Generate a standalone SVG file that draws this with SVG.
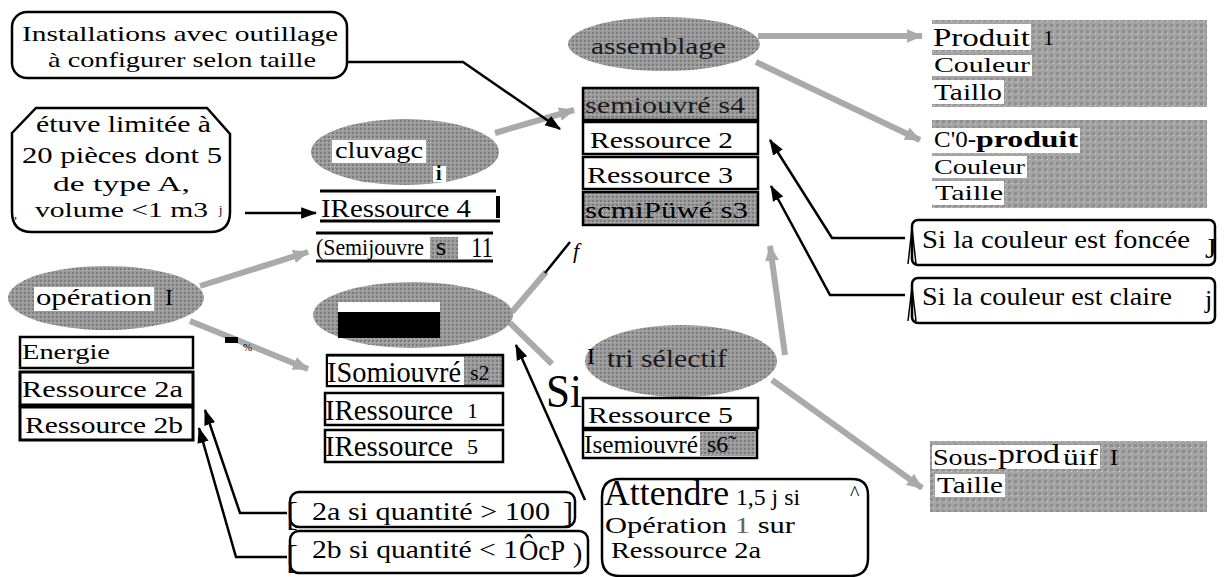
<svg xmlns="http://www.w3.org/2000/svg" width="1228" height="577" viewBox="0 0 1228 577" font-family="'Liberation Serif', 'Times New Roman', serif">
<style>
text{font-family:'Liberation Serif','Times New Roman',serif;fill:#000}
.fs22{font-family:'Liberation Serif',serif;font-size:22px}
.fs24{font-family:'Liberation Serif',serif;font-size:24px}
.fs26{font-family:'Liberation Serif',serif;font-size:26px}
.dark{fill:#1a1a1a}
.box{fill:#fff;stroke:#000;stroke-width:2.5}
.gbox{fill:url(#dith);stroke:#000;stroke-width:2.5}
.note{fill:#fff;stroke:#000;stroke-width:2.5}
.ell{fill:url(#dith);stroke:none}
.panel{fill:url(#dith2);stroke:none}
.wbg{fill:#fff}
.blk{fill:none;stroke:#000;stroke-width:2.5}
.gry{fill:none;stroke:#aaa;stroke-width:6}
</style>
<defs>
<pattern id="dith" width="4" height="4" patternUnits="userSpaceOnUse">
<rect width="4" height="4" fill="#9a9a9a"/><rect width="2" height="2" fill="#7e7e7e"/><rect x="2" y="2" width="1" height="1" fill="#c8c8c8"/>
</pattern>
<pattern id="dith2" width="6" height="6" patternUnits="userSpaceOnUse">
<rect width="6" height="6" fill="#a4a4a4"/><rect width="3" height="3" fill="#8e8e8e"/><rect x="3" y="3" width="1" height="1" fill="#d4d4d4"/>
</pattern>
<marker id="ab" viewBox="0 0 14 10" refX="13" refY="5" markerWidth="16" markerHeight="12" markerUnits="userSpaceOnUse" orient="auto"><path d="M0,0 L14,5 L0,10 z" fill="#000"/></marker>
<marker id="ag" viewBox="0 0 14 12" refX="13" refY="6" markerWidth="16" markerHeight="14" markerUnits="userSpaceOnUse" orient="auto"><path d="M0,0 L14,6 L0,12 z" fill="#aaa"/></marker>
</defs>
<rect width="1228" height="577" fill="#fff"/>

<g id="connectors">
<path class="gry" d="M200,286 L308,252" marker-end="url(#ag)"/>
<path class="gry" d="M190,321 L308,369" marker-end="url(#ag)"/>
<path class="gry" d="M495,133 L574,110" marker-end="url(#ag)"/>
<path class="gry" d="M512,312 L546,272"/>
<path class="blk" d="M545,273 L570,242"/>
<path class="gry" d="M510,323 L552,364"/>
<path class="gry" d="M758,36 L922,36" marker-end="url(#ag)"/>
<path class="gry" d="M756,62 L920,140" marker-end="url(#ag)"/>
<path class="gry" d="M785,355 L770,246" marker-end="url(#ag)"/>
<path class="gry" d="M772,380 L922,488" marker-end="url(#ag)"/>
<path class="blk" d="M347,62 L463,62 L560,129" marker-end="url(#ab)"/>
<path class="blk" d="M245,213 L316,213" marker-end="url(#ab)"/>
<path class="blk" d="M585,500 L516,345" marker-end="url(#ab)"/>
<path class="blk" d="M287,513 L240,513 L205,410" marker-end="url(#ab)"/>
<path class="blk" d="M287,557 L236,557 L199,428" marker-end="url(#ab)"/>
<path class="blk" d="M905,238 L832,238 L770,140" marker-end="url(#ab)"/>
<path class="blk" d="M905,295 L830,295 L771,186" marker-end="url(#ab)"/>
<rect x="225" y="337" width="13" height="6" fill="#000"/>
<text x="243" y="351" style="font-size:11px">%</text>
<text x="573" y="258" style="font-size:22px;font-style:italic">f</text>
</g>

<g id="n-installations">
<rect class="note" x="12" y="12" width="335" height="66" rx="15"/>
<text class="fs22" x="22" y="41" textLength="316" lengthAdjust="spacingAndGlyphs">Installations avec outillage</text>
<text class="fs22" x="48" y="67" textLength="268" lengthAdjust="spacingAndGlyphs">à configurer selon taille</text>
</g>

<g id="n-etuve">
<path class="note" d="M12,133 L36,108 L207,108 L230,134 L230,212 Q230,232 210,232 L32,232 Q12,232 12,212 Z"/>
<text class="fs24" x="36" y="132" textLength="175" lengthAdjust="spacingAndGlyphs">étuve limitée à</text>
<text class="fs24" x="22" y="163" textLength="200" lengthAdjust="spacingAndGlyphs">20 pièces dont 5</text>
<text class="fs22" x="53" y="191" textLength="137" lengthAdjust="spacingAndGlyphs">de type A,</text>
<text class="fs22" x="35" y="217" textLength="173" lengthAdjust="spacingAndGlyphs">volume &lt;1 m3</text>
<text x="14" y="218" style="font-size:12px">,</text>
<text x="219" y="214" style="font-size:12px">j</text>
</g>

<g id="n-cluvage">
<ellipse class="ell" cx="405" cy="152" rx="94" ry="33"/>
<rect class="wbg" x="332" y="140" width="94" height="23"/>
<text class="fs24" x="335" y="158" textLength="88" lengthAdjust="spacingAndGlyphs">cluvagc</text>
<rect class="wbg" x="433" y="166" width="13" height="16"/>
<text x="436" y="180" style="font-size:20px;font-weight:bold">i</text>
</g>

<g id="n-ressource4">
<path d="M320,191 L496,191 M320,221 L500,221" stroke="#000" stroke-width="3"/>
<path d="M498,196 L498,218" stroke="#000" stroke-width="4"/>
<text class="fs26" x="321" y="217" textLength="150" lengthAdjust="spacingAndGlyphs">IRessource 4</text>
</g>

<g id="n-semijouvre1">
<path d="M316,233 L493,233 M316,261 L493,261" stroke="#000" stroke-width="3"/>
<rect x="430" y="237" width="28" height="22" fill="url(#dith)"/>
<text x="316" y="255" style="font-size:24px" textLength="108" lengthAdjust="spacingAndGlyphs">(Semijouvre</text>
<text class="fs26" x="436" y="255">s</text>
<text x="471" y="257" style="font-size:30px" textLength="22" lengthAdjust="spacingAndGlyphs">11</text>
</g>

<g id="n-operation">
<ellipse class="ell" cx="106" cy="298" rx="98" ry="32"/>
<rect class="wbg" x="34" y="287" width="120" height="24"/>
<text class="fs24" x="36" y="305" textLength="116" lengthAdjust="spacingAndGlyphs">opération</text>
<text class="fs24" x="165" y="305">I</text>
</g>

<g id="n-energie">
<rect class="box" x="20" y="337" width="173" height="31"/>
<text class="fs22" x="22" y="359" textLength="88" lengthAdjust="spacingAndGlyphs">Energie</text>
</g>
<g id="n-ressource2a">
<rect class="box" x="20" y="372" width="173" height="33" style="stroke-width:3"/>
<text class="fs24" x="22" y="397" textLength="161" lengthAdjust="spacingAndGlyphs">Ressource 2a</text>
</g>
<g id="n-ressource2b">
<rect class="box" x="20" y="407" width="173" height="33" style="stroke-width:3"/>
<text class="fs24" x="25" y="433" textLength="158" lengthAdjust="spacingAndGlyphs">Ressource 2b</text>
</g>

<g id="n-op2">
<ellipse class="ell" cx="413" cy="315" rx="100" ry="33"/>
<rect class="wbg" x="338" y="302" width="102" height="10"/>
<rect x="338" y="312" width="102" height="26" fill="#000"/>
</g>

<g id="n-somiouvre2">
<rect class="gbox" x="327" y="355" width="176" height="31"/>
<rect class="wbg" x="328" y="357" width="136" height="28"/>
<text x="327" y="382" style="font-size:29px" textLength="134" lengthAdjust="spacingAndGlyphs">ISomiouvré</text>
<text class="fs22" x="470" y="380">s2</text>
</g>
<g id="n-ressource1">
<rect class="box" x="325" y="393" width="178" height="32"/>
<text x="325" y="420" style="font-size:30px" textLength="128" lengthAdjust="spacingAndGlyphs">IRessource</text>
<text class="fs22" x="467" y="418">1</text>
</g>
<g id="n-ressource5a">
<rect class="box" x="325" y="430" width="178" height="32"/>
<text x="325" y="456" style="font-size:30px" textLength="128" lengthAdjust="spacingAndGlyphs">IRessource</text>
<text class="fs22" x="467" y="454">5</text>
</g>

<g id="n-cond2a">
<rect class="note" x="290" y="492" width="285" height="35" rx="9"/>
<text x="286" y="525" style="font-size:34px" textLength="12" lengthAdjust="spacingAndGlyphs">[</text>
<text class="fs26" x="312" y="520" textLength="238" lengthAdjust="spacingAndGlyphs">2a si quantité &gt; 100</text>
<text x="563" y="522" style="font-size:30px">]</text>
</g>
<g id="n-cond2b">
<rect class="note" x="290" y="531" width="298" height="42" rx="9"/>
<text x="286" y="568" style="font-size:34px" textLength="12" lengthAdjust="spacingAndGlyphs">[</text>
<text class="fs26" x="312" y="558" textLength="206" lengthAdjust="spacingAndGlyphs">2b si quantité &lt; 1</text>
<text x="519" y="560" style="font-size:29px" textLength="46" lengthAdjust="spacingAndGlyphs">ÔcP</text>
<text x="573" y="562" style="font-size:28px">)</text>
</g>

<g id="n-attendre">
<path class="note" d="M620,479 L852,479 Q868,479 868,495 L868,558 Q868,576 850,576 L620,576 Q602,576 602,558 L602,497 Q602,479 620,479 Z"/>
<text x="604" y="505" style="font-size:36px" textLength="125" lengthAdjust="spacingAndGlyphs">Attendre</text>
<text class="fs24" x="736" y="505" textLength="64" lengthAdjust="spacingAndGlyphs">1,5 j si</text>
<text class="fs24" x="605" y="533" textLength="190" lengthAdjust="spacingAndGlyphs">Opération <tspan fill="#666">1</tspan> sur</text>
<text class="fs24" x="611" y="558" textLength="150" lengthAdjust="spacingAndGlyphs">Ressource 2a</text>
<text x="850" y="500" style="font-size:20px">^</text>
</g>

<g id="n-assemblage">
<ellipse class="ell" cx="664" cy="44" rx="96" ry="27"/>
<text class="fs24 dark" x="591" y="54" textLength="135" lengthAdjust="spacingAndGlyphs">assemblage</text>
</g>
<g id="n-semiouvre4">
<rect class="gbox" x="583" y="88" width="175" height="32"/>
<text class="fs24 dark" x="585" y="113" textLength="160" lengthAdjust="spacingAndGlyphs">semiouvré s4</text>
</g>
<g id="n-ressource2">
<rect class="box" x="583" y="122" width="175" height="32"/>
<text class="fs24" x="590" y="148" textLength="143" lengthAdjust="spacingAndGlyphs">Ressource 2</text>
</g>
<g id="n-ressource3">
<rect class="box" x="583" y="157" width="175" height="32"/>
<text class="fs24" x="587" y="183" textLength="146" lengthAdjust="spacingAndGlyphs">Ressource 3</text>
</g>
<g id="n-semiouvre3">
<rect class="gbox" x="583" y="192" width="175" height="33"/>
<text class="fs24" x="585" y="218" textLength="163" lengthAdjust="spacingAndGlyphs">scmiPüwé s3</text>
</g>

<g id="n-produit">
<rect class="panel" x="932" y="20" width="275" height="87"/>
<rect class="wbg" x="932" y="24" width="99" height="26"/>
<text class="fs26" x="933" y="46" textLength="97" lengthAdjust="spacingAndGlyphs">Produit</text>
<text class="fs22" x="1043" y="45">1</text>
<rect class="wbg" x="932" y="55" width="100" height="21"/>
<text class="fs22" x="934" y="72" textLength="96" lengthAdjust="spacingAndGlyphs">Couleur</text>
<rect class="wbg" x="932" y="80" width="72" height="24"/>
<text class="fs24" x="934" y="100" textLength="68" lengthAdjust="spacingAndGlyphs">Taillo</text>
</g>

<g id="n-coproduit">
<rect class="panel" x="932" y="120" width="275" height="88"/>
<rect class="wbg" x="932" y="128" width="148" height="25"/>
<text class="fs24" x="934" y="147" textLength="42" lengthAdjust="spacingAndGlyphs">C'0-</text>
<text class="fs24" x="976" y="147" style="font-weight:bold" textLength="102" lengthAdjust="spacingAndGlyphs">produit</text>
<rect class="wbg" x="932" y="156" width="95" height="22"/>
<text class="fs22" x="934" y="174" textLength="91" lengthAdjust="spacingAndGlyphs">Couleur</text>
<rect class="wbg" x="932" y="181" width="72" height="24"/>
<text class="fs22" x="935" y="200" textLength="68" lengthAdjust="spacingAndGlyphs">Taille</text>
</g>

<g id="n-fonce">
<rect class="note" x="912" y="220" width="303" height="45" rx="6"/>
<path d="M908,264 L912,228 L916,264" fill="none" stroke="#000" stroke-width="1.5"/>
<text class="fs26" x="922" y="248" textLength="268" lengthAdjust="spacingAndGlyphs">Si la couleur est foncée</text>
<text x="1205" y="258" style="font-size:30px">J</text>
</g>
<g id="n-claire">
<rect class="note" x="912" y="278" width="303" height="45" rx="6"/>
<path d="M908,321 L912,287 L916,321" fill="none" stroke="#000" stroke-width="1.5"/>
<text class="fs26" x="922" y="305" textLength="250" lengthAdjust="spacingAndGlyphs">Si la couleur est claire</text>
<text x="1205" y="308" style="font-size:26px">j</text>
</g>

<g id="n-tri">
<ellipse class="ell" cx="681" cy="361" rx="96" ry="36"/>
<text class="fs26 dark" x="607" y="367" textLength="120" lengthAdjust="spacingAndGlyphs">tri sélectif</text>
<text class="fs24" x="587" y="364">I</text>
<text x="546" y="407" style="font-size:46px" textLength="36" lengthAdjust="spacingAndGlyphs">Si</text>
</g>
<g id="n-ressource5b">
<rect class="box" x="583" y="398" width="175" height="30"/>
<text class="fs24" x="588" y="423" textLength="145" lengthAdjust="spacingAndGlyphs">Ressource 5</text>
</g>
<g id="n-semiouvre6">
<rect class="box" x="583" y="430" width="174" height="28"/>
<rect x="700" y="432" width="56" height="24" fill="url(#dith)"/>
<text x="584" y="453" style="font-size:26px" textLength="114" lengthAdjust="spacingAndGlyphs">Isemiouvré</text>
<text class="fs24" x="707" y="452">s6̃</text>
</g>

<g id="n-sousproduit">
<rect class="panel" x="930" y="441" width="277" height="71"/>
<rect class="wbg" x="932" y="445" width="168" height="24"/>
<text class="fs24" x="933" y="465" textLength="64" lengthAdjust="spacingAndGlyphs">Sous-</text>
<text x="998" y="463" style="font-size:28px" textLength="62" lengthAdjust="spacingAndGlyphs">prod</text>
<text class="fs24" x="1063" y="465" textLength="35" lengthAdjust="spacingAndGlyphs">üif</text>
<text class="fs24" x="1110" y="465">I</text>
<rect class="wbg" x="935" y="474" width="70" height="23"/>
<text class="fs24" x="937" y="493" textLength="66" lengthAdjust="spacingAndGlyphs">Taille</text>
</g>
</svg>
